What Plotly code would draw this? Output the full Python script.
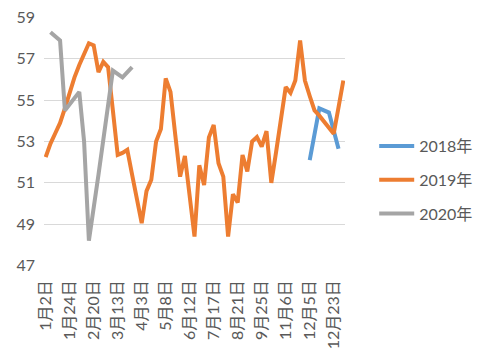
import plotly.graph_objects as go

categories = [
    "1月2日", "1月8日", "1月11日", "1月16日", "1月21日",
    "1月24日", "2月1日", "2月7日", "2月12日", "2月15日",
    "2月20日", "2月25日", "2月28日", "3月5日", "3月8日",
    "3月13日", "3月18日", "3月21日", "3月26日", "3月29日",
    "4月3日", "4月10日", "4月17日", "4月24日", "4月30日",
    "5月8日", "5月15日", "5月22日", "5月29日", "6月5日",
    "6月12日", "6月19日", "6月26日", "7月3日", "7月10日",
    "7月17日", "7月24日", "7月31日", "8月7日", "8月14日",
    "8月21日", "8月28日", "9月4日", "9月11日", "9月18日",
    "9月25日", "10月9日", "10月16日", "10月23日", "10月30日",
    "11月6日", "11月13日", "11月20日", "11月27日", "12月2日",
    "12月5日", "12月10日", "12月13日", "12月17日", "12月20日",
    "12月23日", "12月26日", "12月30日",
]

tick_labels = ["1月2日", "1月24日", "2月20日", "3月13日", "4月3日", "5月8日",
               "6月12日", "7月17日", "8月21日", "9月25日", "11月6日",
               "12月5日", "12月23日"]

N = None
values_2018 = [N] * 55 + [52.1, N, 54.6, N, 54.4, N, 52.65, N]

values_2019 = [
    52.25, 52.9, 53.4, 53.9, 54.6, 55.4, 56.1, 56.7, 57.2, 57.75,
    57.65, 56.35, 56.85, 56.6, 54.5, 52.35, 52.45, 52.6, 51.4, 50.2,
    49.05, 50.6, 51.15, 53.0, 53.6, 56.05, 55.4, 53.3, 51.3, 52.3,
    50.3, 48.4, 51.85, 50.9, 53.2, 53.8, 51.95, 51.3, 48.4, 50.45,
    50.05, 52.35, 51.55, 53.0, 53.22, 52.75, 53.5, 51.0, 52.5, 54.1,
    55.63, 55.35, 55.95, 57.88, 55.95, 55.2, 54.5, 54.25, 53.95, 53.65,
    53.38, 54.65, 55.95,
]

values_2020 = [N, 58.28, N, 57.88, 54.5, N, N, 55.4, 53.0, 48.2,
               N, 51.4, N, N, 56.43, N, 56.1, N, 56.6] + [N] * 44

series = [
    ("2018年", values_2018, "#5B9BD5"),
    ("2019年", values_2019, "#ED7D31"),
    ("2020年", values_2020, "#A5A5A5"),
]

FONT = "Lato, 'Noto Sans CJK SC', sans-serif"
TEXT = "#595959"

fig = go.Figure()
for i, (name, vals, color) in enumerate(series):
    fig.add_trace(go.Scatter(
        x=categories, y=vals, name=name, mode="lines",
        connectgaps=True, legendgroup=f"g{i}",
        line=dict(color=color, width=4),
    ))

fig.update_layout(
    width=489, height=358,
    margin=dict(l=44, r=144, t=17, b=92, autoexpand=False),
    paper_bgcolor="white", plot_bgcolor="white",
    font=dict(family=FONT, size=16, color=TEXT),
    legend=dict(
        x=1.097, y=0.345, xanchor="left", yanchor="middle",
        traceorder="grouped", tracegroupgap=10, itemwidth=35,
        font=dict(family=FONT, size=16, color=TEXT),
        bgcolor="rgba(0,0,0,0)",
    ),
    showlegend=True,
)

fig.update_xaxes(
    type="category", categoryorder="array", categoryarray=categories,
    range=[-0.35, 62.35], automargin=False,
    tickmode="array", tickvals=tick_labels, ticktext=tick_labels,
    tickangle=-90, showgrid=False, zeroline=False, showline=False,
    ticks="", ticklabelstandoff=10,
    tickfont=dict(family=FONT, size=16, color=TEXT),
)

fig.update_yaxes(
    range=[46.98, 59.02], tickmode="array", automargin=False,
    tickvals=[47, 49, 51, 53, 55, 57, 59],
    showgrid=True, gridcolor="#D9D9D9", gridwidth=1,
    zeroline=False, showline=False, ticks="", ticklabelstandoff=8,
    tickfont=dict(family=FONT, size=16, color=TEXT),
)

fig.write_html(
    "out.html",
    config={"displayModeBar": False},
    post_script="document.body.style.margin='0';document.body.style.overflow='hidden';",
)
